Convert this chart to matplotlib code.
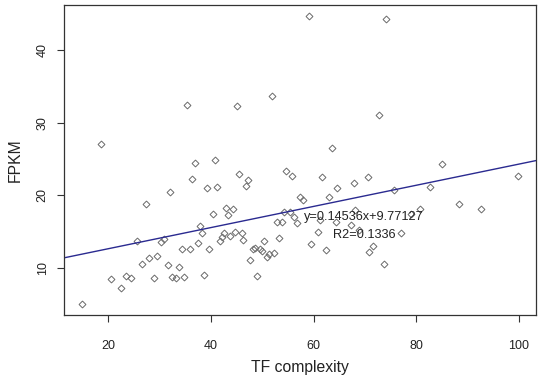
import matplotlib
matplotlib.use("Agg")
import matplotlib.pyplot as plt
import numpy as np

plt.rcParams['font.family'] = ['Liberation Sans', 'DejaVu Sans']

tf_complexity = [14.8, 18.6, 20.6, 22.4, 23.5, 24.4, 25.6, 26.5, 27.3, 28.0,
                 28.8, 29.5, 30.2, 30.8, 31.6, 32.0, 32.5, 33.2, 33.8, 34.3,
                 34.7, 35.4, 35.9, 36.4, 36.8, 37.5, 37.9, 38.3, 38.7, 39.2,
                 39.7, 40.3, 40.8, 41.2, 41.8, 42.1, 42.5, 42.9, 43.3, 43.8,
                 44.2, 44.6, 45.1, 45.5, 46.0, 46.3, 46.8, 47.3, 47.7, 48.1,
                 48.6, 49.0, 49.6, 50.0, 50.4, 50.9, 51.4, 51.8, 52.3, 52.8,
                 53.3, 53.8, 54.2, 54.7, 55.4, 55.8, 56.2, 56.8, 57.3, 58.0,
                 59.2, 59.5, 60.9, 61.2, 61.6, 62.4, 63.1, 63.6, 64.4, 64.5,
                 67.3, 67.8, 68.0, 68.9, 70.7, 70.8, 71.6, 72.8, 73.8, 74.1,
                 75.6, 77.0, 79.0, 80.8, 82.7, 85.0, 88.4, 92.6, 99.9]
fpkm = [5.1, 27.1, 8.5, 7.3, 8.9, 8.6, 13.8, 10.6, 18.8, 11.4,
        8.6, 11.7, 13.6, 14.0, 10.5, 20.5, 8.8, 8.6, 10.2, 12.7,
        8.8, 32.5, 12.7, 22.3, 24.5, 13.4, 15.8, 14.8, 9.0, 21.0,
        12.7, 17.5, 24.9, 21.1, 13.8, 14.3, 14.9, 18.3, 17.3, 14.4,
        18.1, 15.0, 32.3, 22.9, 14.8, 13.9, 21.3, 22.1, 11.1, 12.7,
        12.8, 8.9, 12.7, 12.4, 13.8, 11.5, 11.9, 33.7, 12.1, 16.4,
        14.2, 16.4, 17.7, 23.3, 17.7, 22.7, 17.0, 16.2, 19.8, 19.4,
        44.7, 13.3, 15.0, 16.6, 22.5, 12.5, 19.8, 26.5, 16.3, 21.0,
        15.9, 21.7, 18.0, 15.2, 22.5, 12.2, 13.0, 31.0, 10.6, 44.3,
        20.7, 14.8, 17.4, 18.1, 21.1, 24.3, 18.8, 18.1, 22.7]

slope = 0.14536
intercept = 9.77127
eq_label = "y=0.14536x+9.77127"
r2_label = "R2=0.1336"
x_ticks = [20, 40, 60, 80, 100]
y_ticks = [10, 20, 30, 40]

fig = plt.figure(figsize=(5.39, 3.81), dpi=100)
ax = fig.add_axes([0.1187, 0.1724, 0.8757, 0.8153])

ax.plot(tf_complexity, fpkm, linestyle='none', marker='D', markersize=3.5,
        markerfacecolor='none', markeredgecolor='#6a6a6a', markeredgewidth=0.7)

ax.set_xlim(11.35, 103.35)
ax.set_ylim(3.52, 46.23)
ax.axline((0, intercept), slope=slope, color='#2a2a90', linewidth=1.0)

ax.text(69.8, 17.0, eq_label, ha='center', va='center', fontsize=9.2, color='#222222')
ax.text(69.8, 14.5, r2_label, ha='center', va='center', fontsize=9.2, color='#222222')

ax.set_xticks(x_ticks)
ax.set_yticks(y_ticks)
ax.tick_params(direction='out', length=5, width=0.8, color='#333333',
               labelsize=9, labelcolor='#222222')
ax.tick_params(axis='x', pad=12.5)
ax.tick_params(axis='y', pad=6)
for lbl in ax.get_yticklabels():
    lbl.set_rotation(90)
    lbl.set_va('center')
for s in ax.spines.values():
    s.set_color('#333333')
    s.set_linewidth(0.9)

ax.set_xlabel("TF complexity", fontsize=11.3, color='#222222', labelpad=6)
ax.set_ylabel("FPKM", fontsize=11.3, color='#222222', labelpad=10)

fig.savefig("out.png", dpi=100)
